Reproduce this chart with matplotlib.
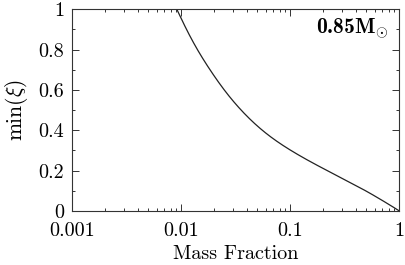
import numpy as np
import matplotlib
matplotlib.use("Agg")
import matplotlib.pyplot as plt
from matplotlib.ticker import FixedLocator, FixedFormatter, MultipleLocator, LogLocator, NullFormatter

plt.rcParams['font.family'] = 'serif'
plt.rcParams['font.serif'] = ['cmr10']
plt.rcParams['mathtext.fontset'] = 'cm'
plt.rcParams['axes.formatter.use_mathtext'] = True

mass_fraction = [0.0091, 0.0112, 0.0141, 0.0183, 0.0252, 0.0360, 0.0560, 0.1, 0.22, 0.38, 0.5, 0.65, 0.85, 1.0]
min_xi =        [1.0,    0.899,  0.799,  0.701,  0.595,  0.496,  0.398,  0.302, 0.199, 0.132, 0.0975, 0.062, 0.024, 0.0]
x_ticks = [0.001, 0.01, 0.1, 1]
x_tick_labels = ["0.001", "0.01", "0.1", "1"]
y_ticks = [0, 0.2, 0.4, 0.6, 0.8, 1]
y_tick_labels = ["0", "0.2", "0.4", "0.6", "0.8", "1"]

fig = plt.figure(figsize=(4.06, 2.65), dpi=100)
ax = fig.add_axes([0.178, 0.204, 0.8055, 0.761])

def natural_spline(x, y, xn):
    x = np.asarray(x, float); y = np.asarray(y, float)
    n = len(x); h = np.diff(x)
    A = np.zeros((n, n)); b = np.zeros(n)
    A[0, 0] = 1; A[-1, -1] = 1
    for i in range(1, n - 1):
        A[i, i-1] = h[i-1]; A[i, i] = 2*(h[i-1] + h[i]); A[i, i+1] = h[i]
        b[i] = 3*((y[i+1]-y[i])/h[i] - (y[i]-y[i-1])/h[i-1])
    c = np.linalg.solve(A, b)
    bb = (y[1:]-y[:-1])/h - h*(2*c[:-1] + c[1:])/3
    d = (c[1:] - c[:-1])/(3*h)
    idx = np.clip(np.searchsorted(x, xn) - 1, 0, n - 2)
    t = xn - x[idx]
    return y[idx] + bb[idx]*t + c[idx]*t**2 + d[idx]*t**3

lx = np.log10(mass_fraction)
xs = np.linspace(lx[0], lx[-1], 500)
ys = natural_spline(lx, min_xi, xs)
ax.plot(10**xs, ys, color='#222222', lw=0.9)

ax.set_xscale('log')
ax.set_xlim(0.001, 1)
ax.set_ylim(0, 1)
ax.xaxis.set_major_locator(FixedLocator(x_ticks))
ax.xaxis.set_major_formatter(FixedFormatter(x_tick_labels))
ax.xaxis.set_minor_locator(LogLocator(base=10, subs=np.arange(2, 10)))
ax.xaxis.set_minor_formatter(NullFormatter())
ax.yaxis.set_major_locator(FixedLocator(y_ticks))
ax.yaxis.set_major_formatter(FixedFormatter(y_tick_labels))
ax.yaxis.set_minor_locator(MultipleLocator(0.1))

ax.tick_params(which='both', direction='in', top=True, right=True, labelsize=14.5, color='#333333', width=0.7)
ax.tick_params(axis='x', which='major', length=5, pad=8)
ax.tick_params(axis='y', which='major', length=5, pad=6)
ax.tick_params(which='minor', length=2.5)
for s in ax.spines.values():
    s.set_linewidth(0.8)
    s.set_color('#333333')

ax.set_xlabel('Mass Fraction', fontsize=14.5, labelpad=4)
ax.set_ylabel(r'min$(\xi)$', fontsize=15.5, labelpad=6)
ax.text(0.968, 0.905, r'0.85M$_{\odot}$', family='cmb10', transform=ax.transAxes,
        ha='right', va='center', fontsize=15.5)

fig.savefig('out.png', dpi=100)
